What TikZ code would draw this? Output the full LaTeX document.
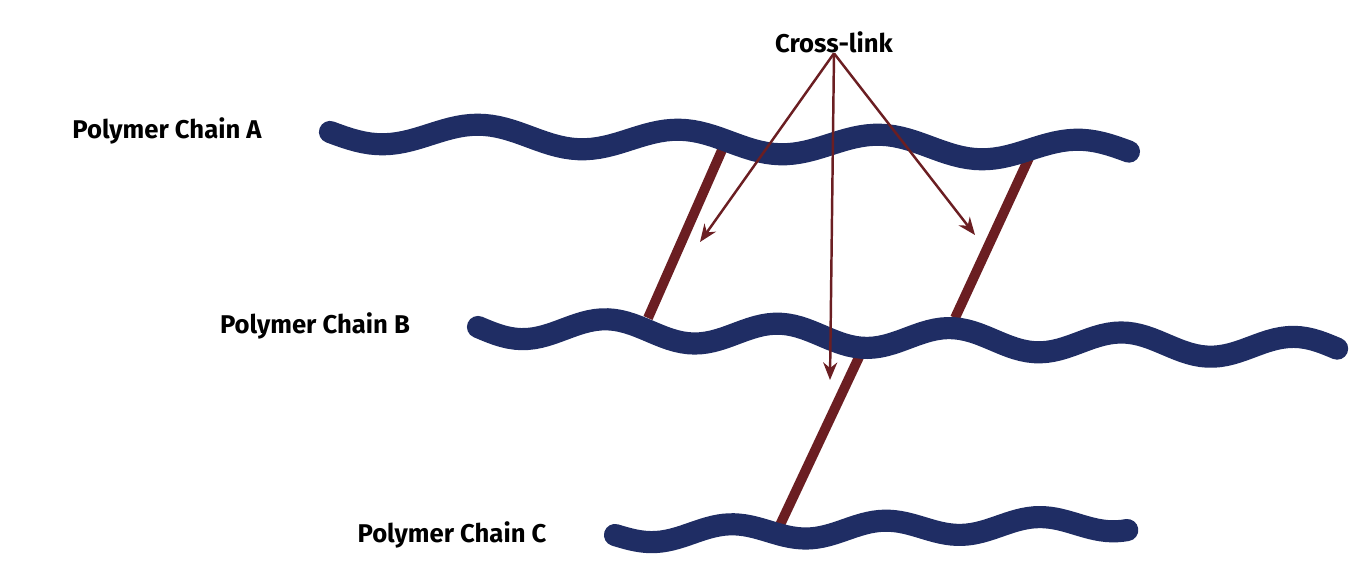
\documentclass[tikz,border=0pt]{standalone}
\usepackage{fontspec}
\setmainfont{Fira Sans}
\usetikzlibrary{arrows.meta}
\definecolor{chainblue}{HTML}{1F2D64}
\definecolor{linkred}{HTML}{6B1E22}
\begin{document}
\begin{tikzpicture}[
    x = 0.01cm,
    y = -0.01cm,
    >={Stealth[length=5pt,width=4pt]},
    chain/.style = {chainblue, line width=6.3pt, line cap=round},
    link/.style = {linkred, line width=2.8pt},
    pointer/.style = {->, linkred, line width=0.7pt},
    label/.style = {font=\fontsize{7.3}{9}\selectfont\bfseries, inner sep=0pt},
    ]
\useasboundingbox (0,0) rectangle (1366,585);

% cross-links (behind chains)
\draw [link] (722,150) -- (648,318);
\draw [link] (1035,145) -- (955,318);
\draw [link] (860,355) -- (780,525);

% chains
\draw [chain] plot[domain=0:1, samples=120] ({330+800*\x}, {132+20*\x+11*sin(1440*\x)});
\draw [chain] plot[domain=0:1, samples=140] ({478+860*\x}, {327+22*\x+11*sin(1800*\x)});
\draw [chain] plot[domain=0:1, samples=100] ({615+513*\x}, {535-12*\x+8*sin(1200*\x)});

% labels
\node[label] (chain_a) at (167,131) {Polymer Chain A};
\node[label] (chain_b) at (315,326) {Polymer Chain B};
\node[label] (chain_c) at (452,535) {Polymer Chain C};
\node[label] (cross) at (834,42) {Cross-link};

\coordinate (tip_1) at (700,242);
\coordinate (tip_2) at (975,235);
\coordinate (tip_3) at (830,380);
\draw [pointer] (cross.south) -- (tip_1);
\draw [pointer] (cross.south) -- (tip_2);
\draw [pointer] (cross.south) -- (tip_3);

\end{tikzpicture}
\end{document}
